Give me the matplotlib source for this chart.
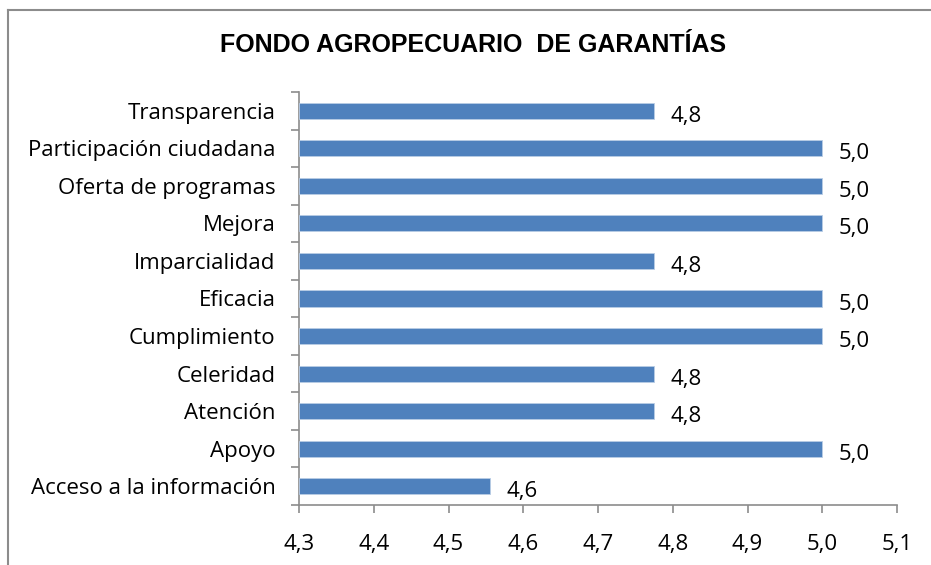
import matplotlib
matplotlib.use("Agg")
import matplotlib.pyplot as plt
from matplotlib.ticker import FixedLocator, NullFormatter

categories = ["Transparencia", "Participación ciudadana", "Oferta de programas", "Mejora",
              "Imparcialidad", "Eficacia", "Cumplimiento", "Celeridad", "Atención", "Apoyo",
              "Acceso a la información"]
values = [4.775, 5.0, 5.0, 5.0, 4.775, 5.0, 5.0, 4.775, 4.775, 5.0, 4.555]
value_labels = ["4,8", "5,0", "5,0", "5,0", "4,8", "5,0", "5,0", "4,8", "4,8", "5,0", "4,6"]
xticks = [4.3, 4.4, 4.5, 4.6, 4.7, 4.8, 4.9, 5.0, 5.1]
xtick_labels = ["4,3", "4,4", "4,5", "4,6", "4,7", "4,8", "4,9", "5,0", "5,1"]
title = "FONDO AGROPECUARIO  DE GARANTÍAS"

W, H = 931, 565
fig = plt.figure(figsize=(W / 100, H / 100), dpi=100)
fig.patch.set_facecolor("white")

# outer chart border (left and top visible)
fig.add_artist(plt.Line2D([8 / W, 8 / W], [0, 1 - 10 / H], transform=fig.transFigure,
                          color="#8c8c8c", lw=1.5))
fig.add_artist(plt.Line2D([8 / W, 1], [1 - 10 / H, 1 - 10 / H], transform=fig.transFigure,
                          color="#8c8c8c", lw=1.5))

ax = fig.add_axes([299 / W, 1 - 505 / H, (897 - 299) / W, (505 - 92) / H])
n = len(categories)
ypos = list(range(n))[::-1]
ax.barh(ypos, [v - 4.3 for v in values], left=4.3, height=0.43, color="#4f81bd",
        edgecolor="#b9cde5", linewidth=0.6, zorder=3)
ax.set_xlim(4.3, 5.1)
ax.set_ylim(-0.5, n - 0.5)

font = "Open Sans"
fs = 16
ax.set_xticks(xticks)
ax.set_xticklabels(xtick_labels, fontsize=fs, family=font)
ax.set_yticks(ypos)
ax.set_yticklabels(categories, fontsize=fs, family=font)
ax.tick_params(axis="y", length=0, pad=17)
ax.yaxis.set_minor_locator(FixedLocator([i - 0.5 for i in range(n + 1)]))
ax.yaxis.set_minor_formatter(NullFormatter())
ax.tick_params(axis="y", which="minor", length=6, color="#8c8c8c", width=1.2)
ax.tick_params(axis="x", length=6, color="#8c8c8c", width=1.2, pad=15)

for s in ["top", "right"]:
    ax.spines[s].set_visible(False)
for s in ["left", "bottom"]:
    ax.spines[s].set_color("#8c8c8c")
    ax.spines[s].set_linewidth(1.2)

for y, v, lab in zip(ypos, values, value_labels):
    ax.annotate(lab, (v, y), xytext=(12, -4), textcoords="offset points",
                ha="left", va="center", fontsize=fs, family=font)

fig.text(473 / W, 1 - 45 / H, title, ha="center", va="center", fontsize=18,
         fontweight="bold", family="Liberation Sans")

fig.savefig("out.png", dpi=100)
